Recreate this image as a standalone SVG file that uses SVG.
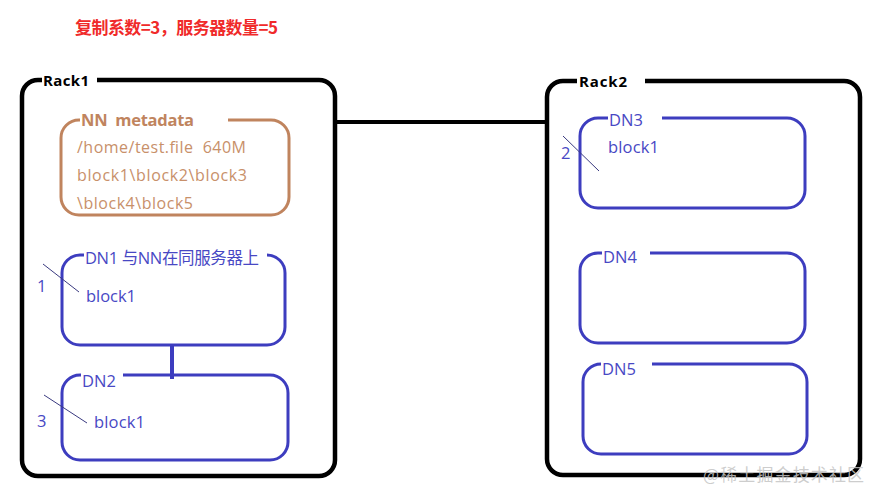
<svg xmlns="http://www.w3.org/2000/svg" width="881" height="502" viewBox="0 0 881 502">
<style>
.rack{fill:none;stroke:#000;stroke-width:4.5;stroke-linecap:butt}
.nn{fill:none;stroke:#c0845e;stroke-width:3}
.dn{fill:none;stroke:#3d3dbf;stroke-width:3}
.conn{fill:none;stroke-width:4}
.tick{stroke:#3a3a80;stroke-width:1}
.rl{font-family:"Open Sans","Noto Sans CJK SC",sans-serif;font-weight:bold;font-size:15px;fill:#000}
.nt{font-family:"Open Sans","Noto Sans CJK SC",sans-serif;font-size:16px;fill:#c8906a}
.dt{font-family:"Open Sans","Noto Sans CJK SC",sans-serif;font-size:16.5px;fill:#4848c4}
</style>
<rect width="881" height="502" fill="#fff"/>
<text x="75" y="34" textLength="203" font-family="'Noto Sans CJK SC',sans-serif" font-weight="bold" font-size="17" fill="#f02a2a">复制系数=3，服务器数量=5</text>

<g id="connectors">
<line x1="335" y1="122" x2="547" y2="122" class="conn" stroke="#000"/>
<line x1="172" y1="345" x2="172" y2="379" class="conn" stroke="#3d3dbf" stroke-width="3.5"/>
</g>

<g id="rack1">
<path class="rack" d="M97 80 H319 A16 16 0 0 1 335 96 V460 A16 16 0 0 1 319 476 H38 A16 16 0 0 1 22 460 V96 A16 16 0 0 1 38 80 H42"/>
<text class="rl" x="43" y="86" textLength="46">Rack1</text>
</g>

<g id="rack2">
<path class="rack" d="M645 81 H844 A16 16 0 0 1 860 97 V459 A16 16 0 0 1 844 475 H563 A16 16 0 0 1 547 459 V97 A16 16 0 0 1 563 81 H577"/>
<text class="rl" x="579" y="87" textLength="48">Rack2</text>
</g>

<g id="nn">
<path class="nn" d="M228 120 H271 A18 18 0 0 1 289 138 V197 A18 18 0 0 1 271 215 H79 A18 18 0 0 1 61 197 V138 A18 18 0 0 1 79 120 H80"/>
<text x="81" y="126" font-family="'Open Sans',sans-serif" font-weight="bold" font-size="16.5" fill="#c0845e" xml:space="preserve" textLength="113">NN  metadata</text>
<text class="nt" x="77" y="153" xml:space="preserve" textLength="169">/home/test.file  640M</text>
<text class="nt" x="77" y="181" textLength="170">block1\block2\block3</text>
<text class="nt" x="77" y="209" textLength="116">\block4\block5</text>
</g>

<g id="dn1">
<path class="dn" d="M267 255 H267 A18 18 0 0 1 285 273 V327 A18 18 0 0 1 267 345 H80 A18 18 0 0 1 62 327 V273 A18 18 0 0 1 80 255 H84"/>
<text class="dt" x="85" y="264" textLength="174">DN1 与NN在同服务器上</text>
<text class="dt" x="86" y="302" textLength="50">block1</text>
<text class="dt" x="37" y="292">1</text>
<line class="tick" x1="43" y1="264" x2="79" y2="292"/>
</g>

<g id="dn2">
<path class="dn" d="M123 375 H270 A18 18 0 0 1 288 393 V442 A18 18 0 0 1 270 460 H80 A18 18 0 0 1 62 442 V393 A18 18 0 0 1 80 375 H81"/>
<text class="dt" x="82" y="387">DN2</text>
<text class="dt" x="94" y="428" textLength="51">block1</text>
<text class="dt" x="37" y="427">3</text>
<line class="tick" x1="44" y1="395" x2="87" y2="423"/>
</g>

<g id="dn3">
<path class="dn" d="M662 118 H787 A18 18 0 0 1 805 136 V190 A18 18 0 0 1 787 208 H598 A18 18 0 0 1 580 190 V136 A18 18 0 0 1 598 118 H608"/>
<text class="dt" x="609" y="126">DN3</text>
<text class="dt" x="608" y="153" textLength="51">block1</text>
<text class="dt" x="561" y="159">2</text>
<line class="tick" x1="563" y1="136" x2="599" y2="171"/>
</g>

<g id="dn4">
<path class="dn" d="M650 253 H787 A18 18 0 0 1 805 271 V325 A18 18 0 0 1 787 343 H598 A18 18 0 0 1 580 325 V271 A18 18 0 0 1 598 253 H602"/>
<text class="dt" x="603" y="263">DN4</text>
</g>

<g id="dn5">
<path class="dn" d="M652 364 H789 A18 18 0 0 1 807 382 V436 A18 18 0 0 1 789 454 H601 A18 18 0 0 1 583 436 V382 A18 18 0 0 1 601 364 H601"/>
<text class="dt" x="602" y="375">DN5</text>
</g>

<text x="703" y="481" font-family="'Noto Sans CJK SC',sans-serif" font-size="17" fill="#c4c4c4" fill-opacity="0.85" textLength="161">@稀土掘金技术社区</text>
</svg>
